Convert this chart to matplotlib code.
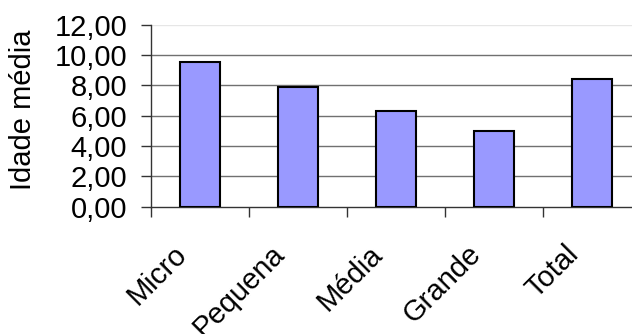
import matplotlib
matplotlib.use("Agg")
import matplotlib.pyplot as plt
import numpy as np

categories = ["Micro", "Pequena", "Média", "Grande", "Total"]
idade_media = [9.52, 7.91, 6.33, 5.01, 8.44]
y_ticks = [0, 2, 4, 6, 8, 10, 12]

plt.rcParams["font.family"] = ["Liberation Sans", "DejaVu Sans"]
FS = 21

fig = plt.figure(figsize=(6.32, 3.34), dpi=100)
# plot area runs past the right edge of the canvas
ax = fig.add_axes([151 / 632, 127.3 / 334, 490 / 632, 182 / 334])

x = np.arange(len(categories))
ax.bar(x, idade_media, width=0.41, color="#9999FF", edgecolor="black",
       linewidth=1.5, zorder=3)

ax.set_xlim(-0.5, len(categories) - 0.5)
ax.set_ylim(0, 12)
ax.set_yticks(y_ticks)
ax.set_yticklabels([f"{v:.2f}".replace(".", ",") for v in y_ticks], fontsize=FS)

for v in y_ticks[1:-1]:
    ax.axhline(v, color="#707070", linewidth=1.0, zorder=1)
ax.axhline(12, color="#e6e6e6", linewidth=1.0, zorder=1)

# slanted category names, their ends set a little left of each bar centre
ax.set_xticks(x - 0.18)
ax.set_xticklabels(categories, fontsize=FS, rotation=45, ha="right",
                   va="center", rotation_mode="anchor")
ax.tick_params(axis="x", which="major", length=0, pad=31)
ax.set_xticks(np.arange(-0.5, len(categories), 1.0), minor=True)
ax.tick_params(axis="x", which="minor", length=7.2, width=1.0, color="#333333",
               direction="out")
ax.tick_params(axis="y", length=7.2, width=1.0, color="#333333", pad=10,
               direction="out")

for s in ["top", "right"]:
    ax.spines[s].set_visible(False)
ax.spines["left"].set_color("#333333")
ax.spines["bottom"].set_color("#333333")
ax.spines["left"].set_linewidth(1.0)
ax.spines["bottom"].set_linewidth(1.0)

fig.text(23 / 632, 1 - 110 / 334, "Idade média", rotation=90, fontsize=FS,
         ha="center", va="center")

fig.savefig("out.png", dpi=100)
